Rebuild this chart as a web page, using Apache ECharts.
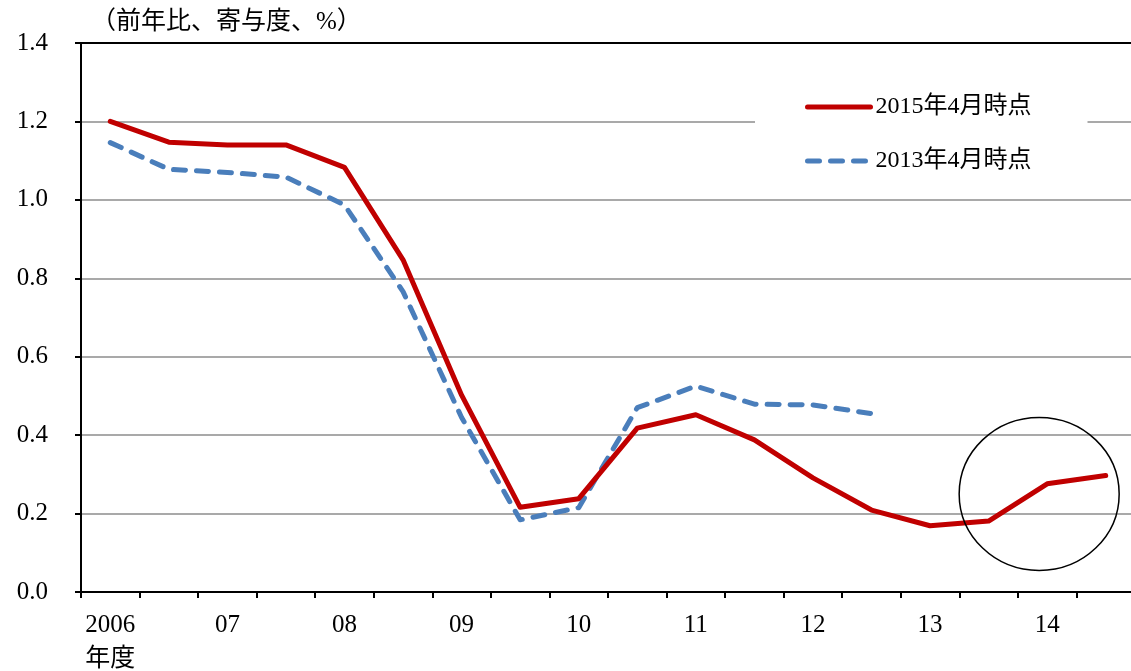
<!DOCTYPE html>
<html>
<head>
<meta charset="utf-8">
<script src="https://cdn.jsdelivr.net/npm/echarts@6/dist/echarts.min.js"></script>
<style>
  html, body { margin: 0; padding: 0; background: #fff; }
  #chart { width: 1131px; height: 671px; }
</style>
</head>
<body>
<div id="chart"></div>
<script>
// Fiscal years, each split into two half-year periods
const years = ['2006', '07', '08', '09', '10', '11', '12', '13', '14'];
const halves = ['H1', 'H2'];

// Contribution (y/y, %) as of April 2015
const series2015 = [1.20, 1.147, 1.14, 1.14, 1.083, 0.847, 0.502, 0.216, 0.238,
                    0.418, 0.452, 0.388, 0.291, 0.209, 0.169, 0.181, 0.276, 0.297];
// Contribution (y/y, %) as of April 2013
const series2013 = [1.146, 1.078, 1.07, 1.058, 0.987, 0.766, 0.445, 0.184, 0.215,
                    0.47, 0.525, 0.479, 0.477, 0.455];

const seriesNames = ['2015年4月時点', '2013年4月時点'];
const yTicks = { min: 0, max: 1.4, interval: 0.2 };
const unitLabel = '（前年比、寄与度、%）';
const firstYearSuffix = '年度';

const categories = [];
years.forEach(y => halves.forEach(h => categories.push(y + '-' + h)));

const FONT = "'Liberation Serif', 'Noto Sans CJK JP', serif";
const chart = echarts.init(document.getElementById('chart'), null, { renderer: 'canvas' });

const option = {
  backgroundColor: '#fff',
  animation: false,
  textStyle: { fontFamily: FONT },
  grid: { left: 81, right: -4, top: 43, bottom: 79, containLabel: false, outerBoundsMode: 'none' },
  title: {
    text: unitLabel,
    left: 86, top: 5,
    textStyle: { fontFamily: FONT, fontSize: 25, fontWeight: 'normal', color: '#000' }
  },
  legend: {
    orient: 'vertical',
    left: 755, top: 82,
    padding: [12, 56, 12, 50],
    backgroundColor: '#fff',
    itemWidth: 63, itemHeight: 14,
    itemGap: 28,
    data: seriesNames,
    itemStyle: { opacity: 0 },
    lineStyle: { width: 5 },
    textStyle: { fontFamily: FONT, fontSize: 24, color: '#000', lineHeight: 26 }
  },
  xAxis: [{
    type: 'category',
    data: categories,
    boundaryGap: true,
    axisLine: { lineStyle: { color: '#000', width: 2 } },
    axisTick: { show: true, interval: 0, length: 6, lineStyle: { color: '#000', width: 2 } },
    axisLabel: {
      interval: 0,
      margin: 16,
      color: '#000',
      fontFamily: FONT,
      fontSize: 25,
      lineHeight: 34,
      formatter: (v) => {
        const [y, h] = v.split('-');
        if (h !== 'H1') return '';
        return y === years[0] ? y + '\n' + firstYearSuffix : y;
      }
    },
    splitLine: { show: false }
  }, {
    type: 'category',
    data: categories,
    position: 'top',
    axisLine: { show: true, lineStyle: { color: '#000', width: 2 } },
    axisTick: { show: false },
    axisLabel: { show: false },
    splitLine: { show: false }
  }],
  yAxis: {
    type: 'value',
    min: yTicks.min, max: yTicks.max, interval: yTicks.interval,
    axisLine: { show: true, lineStyle: { color: '#000', width: 2 } },
    axisTick: { show: true, length: 6, lineStyle: { color: '#000', width: 2 } },
    axisLabel: {
      margin: 33,
      color: '#000',
      fontFamily: FONT,
      fontSize: 25,
      formatter: (v) => v.toFixed(1)
    },
    splitLine: { show: true, lineStyle: { color: '#8c8c8c', width: 1.5 } }
  },
  series: [{
    name: seriesNames[0],
    type: 'line',
    data: series2015,
    symbol: 'none',
    z: 3,
    lineStyle: { color: '#C00000', width: 5, join: 'round', cap: 'round' },
    itemStyle: { color: '#C00000' }
  }, {
    name: seriesNames[1],
    type: 'line',
    data: series2013,
    symbol: 'none',
    z: 2,
    lineStyle: { color: '#4A7EBB', width: 5, type: [12, 11], cap: 'round', join: 'round' },
    itemStyle: { color: '#4A7EBB' }
  }]
};

chart.setOption(option);

// Ring highlighting the latest fiscal year
const center = chart.convertToPixel({ xAxisIndex: 0, yAxisIndex: 0 }, [categories[16], 0.25]);
chart.setOption({
  graphic: [{
    type: 'ellipse',
    shape: { cx: center[0] - 8, cy: center[1], rx: 80, ry: 76.5 },
    style: { fill: 'none', stroke: '#000', lineWidth: 1.5 },
    z: 10
  }]
});
</script>
</body>
</html>
